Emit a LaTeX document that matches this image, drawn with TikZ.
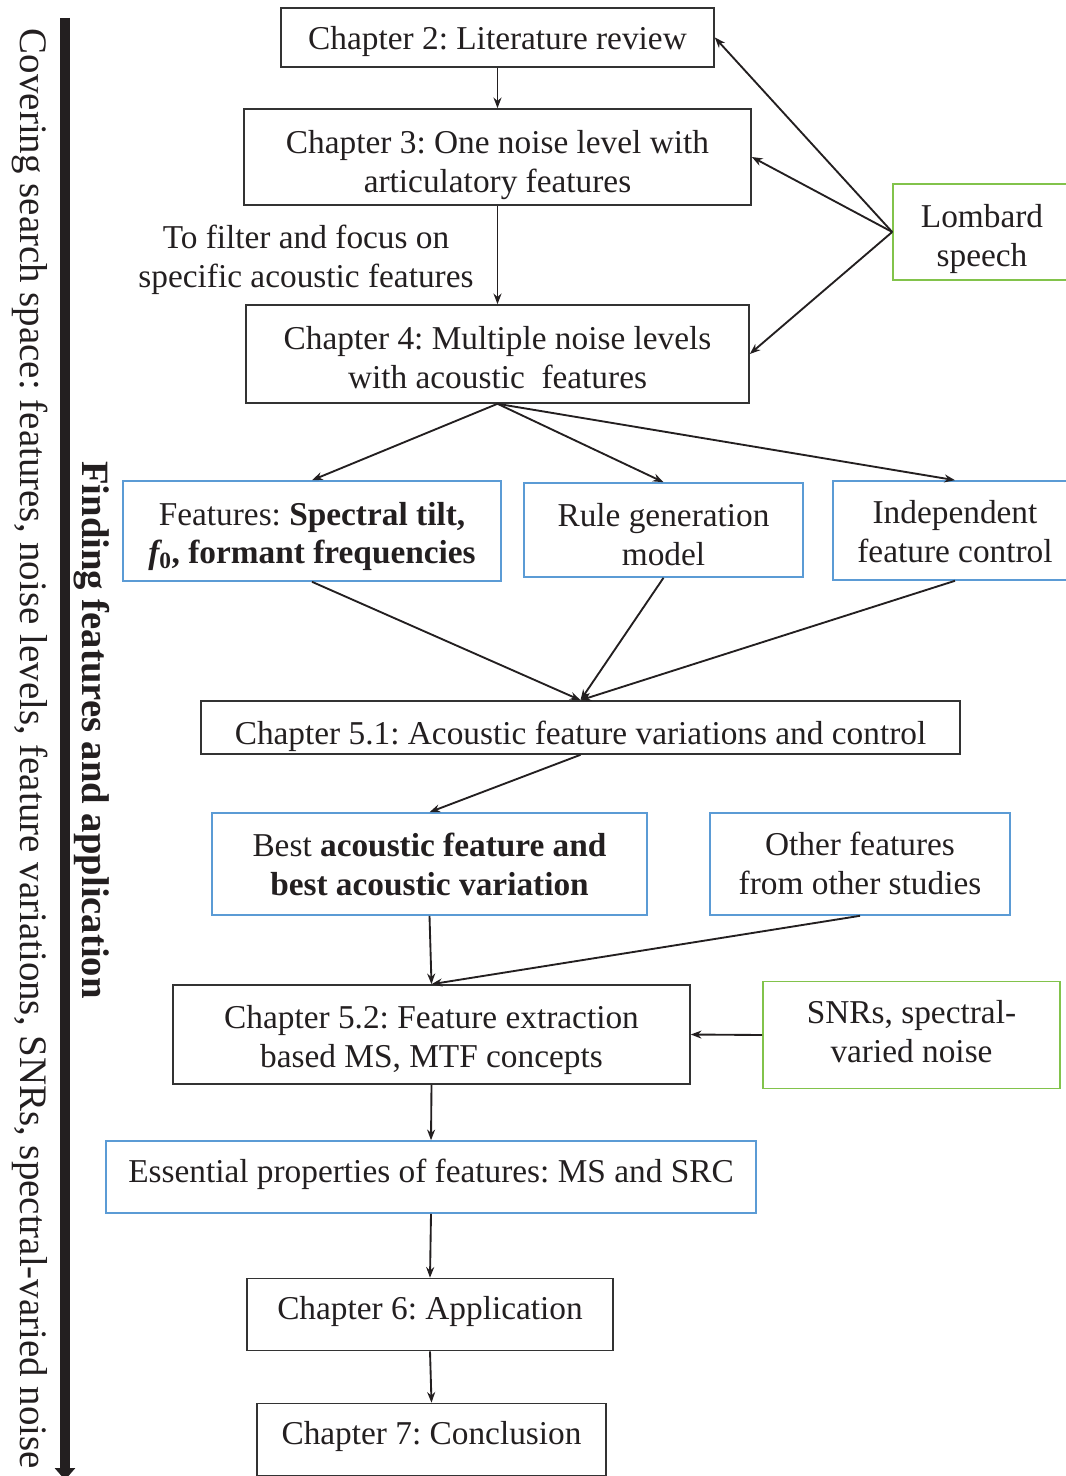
\documentclass[tikz,border=0pt]{standalone}
\usepackage{fontspec}
\setmainfont{Liberation Serif}
\usetikzlibrary{arrows.meta}
\frenchspacing
\definecolor{boxblue}{RGB}{91,155,213}
\definecolor{boxgreen}{RGB}{130,195,75}
\definecolor{ink}{RGB}{35,31,32}
% text block raised by #1 (pt) with zero height, so it can be placed exactly in its box
\newcommand\tblock[2]{\raisebox{#1pt}[0pt][0pt]{\begin{tabular}[b]{@{}c@{}}#2\end{tabular}}}
\tikzset{
  sz/.style 2 args={minimum width=#1*0.75pt, minimum height=#2*0.75pt},
  base/.style={inner sep=0pt, align=center, text=ink, font=\fontsize{25}{29}\selectfont, line width=1.2pt},
  bbox/.style={base, draw=black!80},
  bluebox/.style={base, draw=boxblue},
  greenbox/.style={base, draw=boxgreen},
  conn/.style={draw=ink, line width=1.4pt, -{Stealth[length=8pt,width=6pt]}},
}
\begin{document}
\begin{tikzpicture}[x=0.75pt,y=-0.75pt]
\useasboundingbox (0,0) rectangle (1065,1476);
% side bar
\coordinate (bartop) at (65,18);
\coordinate (barbot) at (65,1480);
\draw[line width=7.5pt, draw=ink, -{Triangle[length=9pt,width=15pt]}] (bartop) -- (barbot);
\node[rotate=-90, inner sep=0pt, text=ink, font=\fontsize{29.2}{34}\selectfont] (cov) at (30,749) {Covering search space: features, noise levels, feature variations, SNRs, spectral-varied noise};
\node[rotate=-90, inner sep=0pt, text=ink, font=\fontsize{29}{34}\selectfont\bfseries] (find) at (92,730) {Finding features and application};
% boxes
\node[bbox, sz={433}{59}] (c2) at (497.5,37.5) {\tblock{-9.2}{Chapter 2: Literature review}};
\node[bbox, sz={507}{96}] (c3) at (497.5,157) {\tblock{-26.5}{Chapter 3: One noise level with\\articulatory features}};
\node[base] (filt) at (306,257) {\tblock{-22.78}{To filter and focus on\\specific acoustic features}};
\node[bbox, sz={503}{98}] (c4) at (497.5,354) {\tblock{-25.9}{Chapter 4: Multiple noise levels\\with acoustic\ \ features}};
\node[greenbox, sz={178}{96}] (lom) at (982,232) {\tblock{-25.78}{Lombard\\speech}};
\node[bluebox, sz={378}{100}] (feat) at (312,531) {\tblock{-24.5}{Features: \textbf{Spectral tilt,}\\{\bfseries\itshape f}\textsubscript{\bfseries 0}\textbf{, formant frequencies}}};
\node[bluebox, sz={279}{94}] (rule) at (663.5,530) {\tblock{-26.3}{Rule generation\\model}};
\node[bluebox, sz={244}{99}] (ind) at (955,530.5) {\tblock{-24.06}{Independent\\feature control}};
\node[bbox, sz={759}{53}] (c51) at (580.5,727.5) {\tblock{-12.5}{Chapter 5.1: Acoustic feature variations and control}};
\node[bluebox, sz={435}{102}] (best) at (429.5,864) {\tblock{-23.53}{Best \textbf{acoustic feature and}\\\textbf{best acoustic variation}}};
\node[bluebox, sz={300}{102}] (oth) at (860,864) {\tblock{-22.78}{Other features\\from other studies}};
\node[bbox, sz={517}{99}] (c52) at (431.5,1034.5) {\tblock{-24.5}{Chapter 5.2: Feature extraction\\based MS, MTF concepts}};
\node[greenbox, sz={297}{107}] (snr) at (911.5,1035) {\tblock{-20.53}{SNRs, spectral-\\varied noise}};
\node[bluebox, sz={650}{72}] (ess) at (431,1177) {\tblock{-4.0}{Essential properties of features: MS and SRC}};
\node[bbox, sz={366}{72}] (c6) at (430,1314.5) {\tblock{-3.8}{Chapter 6: Application}};
\node[bbox, sz={349}{72}] (c7) at (431.5,1439.5) {\tblock{-4.0}{Chapter 7: Conclusion}};
% connectors
\draw[conn] (c2) -- (c3);
\draw[conn] (c3.south) -- (c4.north);
\draw[conn] (lom.west) -- (c2.east);
\draw[conn] (lom.west) -- (c3.east);
\draw[conn] (lom.west) -- (c4.east);
\draw[conn] (c4.south) -- (feat.north);
\draw[conn] (c4.south) -- (rule.north);
\draw[conn] (c4.south) -- (ind.north);
\draw[conn] (feat.south) -- (c51.north);
\draw[conn] (rule.south) -- (c51.north);
\draw[conn] (ind.south) -- (c51.north);
\draw[conn] (c51.south) -- (best.north);
\draw[conn] (best.south) -- (c52.north);
\draw[conn] (oth.south) -- (c52.north);
\draw[conn] (snr.west) -- (c52.east);
\draw[conn] (c52.south) -- (ess.north);
\draw[conn] (ess.south) -- (c6.north);
\draw[conn] (c6.south) -- (c7.north);
\end{tikzpicture}
\end{document}
